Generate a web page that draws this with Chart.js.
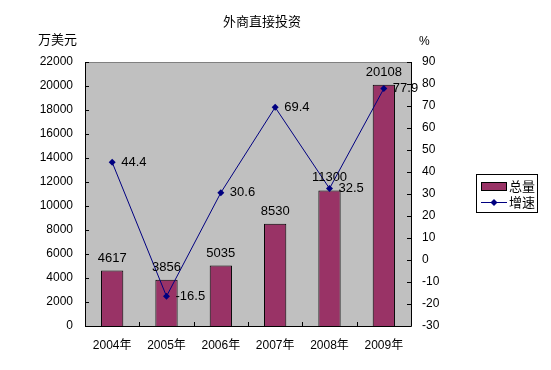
<!DOCTYPE html>
<html>
<head>
<meta charset="utf-8">
<script src="https://cdn.jsdelivr.net/npm/chart.js@4/dist/chart.umd.min.js"></script>
<style>
  body { margin: 0; background: #fff; }
  #wrap { width: 551px; height: 370px; }
</style>
</head>
<body>
<div id="wrap"><canvas id="chart" width="551" height="370"></canvas></div>
<script>
const years = ["2004年", "2005年", "2006年", "2007年", "2008年", "2009年"];
const totals = [4617, 3856, 5035, 8530, 11300, 20108];
const growth = [44.4, -16.5, 30.6, 69.4, 32.5, 77.9];
const leftTicks = [0, 2000, 4000, 6000, 8000, 10000, 12000, 14000, 16000, 18000, 20000, 22000];
const rightTicks = [-30, -20, -10, 0, 10, 20, 30, 40, 50, 60, 70, 80, 90];

const FONT = '"Liberation Sans", "Noto Sans CJK SC", sans-serif';
const BAR = '#993366';
const LINE = '#000080';

function diamond(ctx, x, y, r) {
  ctx.beginPath();
  ctx.moveTo(x, y - r);
  ctx.lineTo(x + r, y);
  ctx.lineTo(x, y + r);
  ctx.lineTo(x - r, y);
  ctx.closePath();
  ctx.fill();
}

const framePlugin = {
  id: 'frame',
  beforeDraw(chart) {
    const { ctx, chartArea: a } = chart;
    ctx.save();
    ctx.fillStyle = '#C0C0C0';
    ctx.fillRect(a.left, a.top, a.right - a.left, a.bottom - a.top);
    ctx.restore();
  },
  afterDatasetsDraw(chart) {
    const { ctx, chartArea: a } = chart;
    const ys = chart.scales.y, y1 = chart.scales.y1;
    ctx.save();
    // frame
    ctx.lineWidth = 1;
    ctx.strokeStyle = '#808080';
    ctx.beginPath();
    ctx.moveTo(a.left, a.top + 0.5); ctx.lineTo(a.right, a.top + 0.5);
    ctx.stroke();
    ctx.strokeStyle = '#000';
    ctx.beginPath();
    ctx.moveTo(a.left + 0.5, a.top); ctx.lineTo(a.left + 0.5, a.bottom + 0.5);
    ctx.lineTo(a.right + 0.5, a.bottom + 0.5); ctx.lineTo(a.right + 0.5, a.top);
    ctx.stroke();
    // inward ticks
    ctx.beginPath();
    leftTicks.forEach(v => {
      const p = Math.round(ys.getPixelForValue(v)) + 0.5;
      ctx.moveTo(a.left, p); ctx.lineTo(a.left + 4, p);
    });
    rightTicks.forEach(v => {
      const p = Math.round(y1.getPixelForValue(v)) + 0.5;
      ctx.moveTo(a.right, p); ctx.lineTo(a.right - 4, p);
    });
    const step = (a.right - a.left) / years.length;
    for (let i = 1; i < years.length; i++) {
      const p = Math.round(a.left + step * i) + 0.5;
      ctx.moveTo(p, a.bottom); ctx.lineTo(p, a.bottom - 4);
    }
    ctx.stroke();

    // value labels
    ctx.fillStyle = '#000';
    ctx.font = '13px ' + FONT;
    const barMeta = chart.getDatasetMeta(0);
    ctx.textAlign = 'center';
    ctx.textBaseline = 'alphabetic';
    barMeta.data.forEach((el, i) => {
      ctx.fillText(String(totals[i]), el.x, el.y - 9);
    });
    const lineMeta = chart.getDatasetMeta(1);
    ctx.textAlign = 'left';
    ctx.textBaseline = 'middle';
    lineMeta.data.forEach((el, i) => {
      ctx.fillText(String(growth[i]), el.x + 9, el.y);
    });

    // title and axis titles
    ctx.font = '13px ' + FONT;
    ctx.textAlign = 'center';
    ctx.fillText('外商直接投资', 262, 22);
    ctx.textAlign = 'left';
    ctx.fillText('万美元', 38, 40);
    ctx.font = '12px ' + FONT;
    ctx.fillText('%', 419, 42);

    // legend
    const lx = 476, ly = 174;
    ctx.strokeStyle = '#000';
    ctx.strokeRect(lx + 0.5, ly + 0.5, 61, 38);
    ctx.fillStyle = BAR;
    ctx.fillRect(lx + 5, ly + 8, 26, 9);
    ctx.strokeRect(lx + 5.5, ly + 8.5, 25, 8);
    ctx.strokeStyle = LINE;
    ctx.beginPath();
    ctx.moveTo(lx + 5, ly + 28.5); ctx.lineTo(lx + 31, ly + 28.5);
    ctx.stroke();
    ctx.fillStyle = LINE;
    diamond(ctx, lx + 18, ly + 28.5, 3.5);
    ctx.fillStyle = '#000';
    ctx.font = '13px ' + FONT;
    ctx.fillText(chart.data.datasets[0].label, lx + 33, ly + 13);
    ctx.fillText(chart.data.datasets[1].label, lx + 33, ly + 29);
    ctx.restore();
  }
};

new Chart(document.getElementById('chart').getContext('2d'), {
  data: {
    labels: years,
    datasets: [{
      type: 'bar',
      label: '总量',
      data: totals,
      yAxisID: 'y',
      backgroundColor: BAR,
      borderColor: '#000',
      borderWidth: 1,
      barPercentage: 0.41,
      categoryPercentage: 1,
      order: 2
    }, {
      type: 'line',
      label: '增速',
      data: growth,
      yAxisID: 'y1',
      borderColor: LINE,
      borderWidth: 1,
      backgroundColor: LINE,
      pointStyle: 'rectRot',
      pointRadius: 3.5,
      pointBorderWidth: 0,
      tension: 0,
      order: 1
    }]
  },
  options: {
    responsive: false,
    animation: false,
    layout: { padding: { top: 62, right: 0, left: 0, bottom: 0 } },
    plugins: { legend: { display: false }, tooltip: { enabled: false } },
    scales: {
      x: {
        grid: { display: false, drawTicks: false },
        border: { display: false },
        ticks: { color: '#000', font: { size: 12, family: FONT }, padding: 12, maxRotation: 0 },
        afterFit(s) { s.height = 44; }
      },
      y: {
        position: 'left',
        min: 0, max: 22000,
        grid: { display: false, drawTicks: false },
        border: { display: false },
        afterBuildTicks(s) { s.ticks = leftTicks.map(v => ({ value: v })); },
        ticks: { color: '#000', font: { size: 12, family: FONT }, padding: 12, callback: v => String(v) },
        afterFit(s) { s.width = 85; }
      },
      y1: {
        position: 'right',
        min: -30, max: 90,
        grid: { display: false, drawTicks: false },
        border: { display: false },
        afterBuildTicks(s) { s.ticks = rightTicks.map(v => ({ value: v })); },
        ticks: { color: '#000', font: { size: 12, family: FONT }, padding: 11, callback: v => String(v) },
        afterFit(s) { s.width = 140; }
      }
    }
  },
  plugins: [framePlugin]
});
</script>
</body>
</html>
